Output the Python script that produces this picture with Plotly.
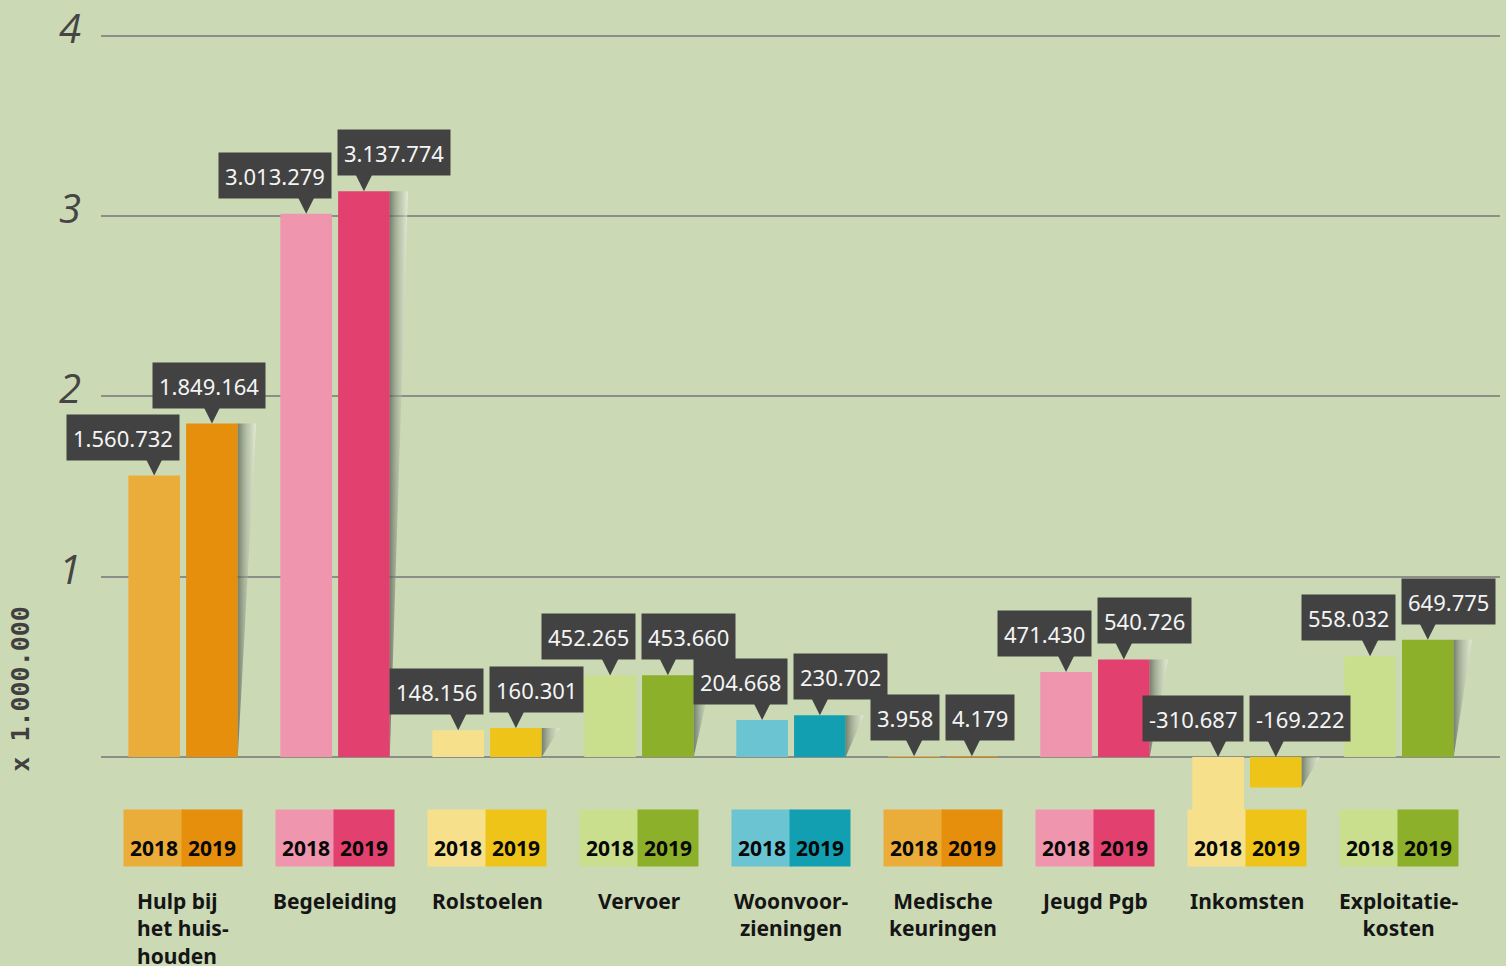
import plotly.graph_objects as go

categories = ["Hulp", "Begeleiding", "Rolstoelen", "Vervoer", "Woonvoorzieningen",
              "Medische keuringen", "Jeugd Pgb", "Inkomsten", "Exploitatiekosten"]
category_labels = ["Hulp bij<br>het huis-<br>houden", "Begeleiding", "Rolstoelen", "Vervoer",
                   "Woonvoor-<br>zieningen", "Medische<br>keuringen", "Jeugd Pgb", "Inkomsten",
                   "Exploitatie-<br>kosten"]
values_2018 = [1560732, 3013279, 148156, 452265, 204668, 3958, 471430, -310687, 558032]
values_2019 = [1849164, 3137774, 160301, 453660, 230702, 4179, 540726, -169222, 649775]
label_2018 = ["1.560.732", "3.013.279", "148.156", "452.265", "204.668", "3.958", "471.430", "-310.687", "558.032"]
label_2019 = ["1.849.164", "3.137.774", "160.301", "453.660", "230.702", "4.179", "540.726", "-169.222", "649.775"]
colors_2018 = ["#EBAD3A", "#EF96AE", "#F7E08C", "#C9DF8E", "#6BC4D2", "#EBAD3A", "#EF96AE", "#F7E08C", "#C9DF8E"]
colors_2019 = ["#E68F0D", "#E2416F", "#EEC419", "#8DB02A", "#139FB2", "#E68F0D", "#E2416F", "#EEC419", "#8DB02A"]
years = ["2018", "2019"]
y_ticks = [0, 1, 2, 3, 4]
y_ticktext = ["", "1", "2", "3", "4"]

SCALE = 1_000_000
y18 = [v / SCALE for v in values_2018]
y19 = [v / SCALE for v in values_2019]
xpos = list(range(len(categories)))

# styling constants
BG = "#CCD9B5"
BOX = "#424242"
BAR_W = 0.34
OFF18 = -0.36
OFF19 = 0.02
C18 = OFF18 + BAR_W / 2
C19 = OFF19 + BAR_W / 2
center_2019_label = [True, False, False, False, False, False, False, False, False]
label_align = ["left", "center", "center", "center", "center", "center", "center", "center", "center"]

fig = go.Figure()

# page-curl style shadows on the right of the 2019 bars
for i, v in zip(xpos, y19):
    right = i + OFF19 + BAR_W
    top, bot = max(v, 0), min(v, 0)
    fig.add_trace(go.Scatter(
        x=[right, right + 0.12, right, right], y=[top, top, bot, top],
        mode="lines", line=dict(width=0), fill="toself",
        fillgradient=dict(type="horizontal",
                          colorscale=[[0, "rgba(80,90,78,0.7)"], [0.5, "rgba(160,170,155,0.5)"],
                                      [1, "rgba(245,248,240,0.55)"]]),
        hoverinfo="skip", showlegend=False))

fig.add_trace(go.Bar(x=xpos, y=y18, name="2018", offset=OFF18, width=BAR_W,
                     marker=dict(color=colors_2018, line=dict(width=0))))
fig.add_trace(go.Bar(x=xpos, y=y19, name="2019", offset=OFF19, width=BAR_W,
                     marker=dict(color=colors_2019, line=dict(width=0))))

annotations = []
LABEL_FONT = dict(family="Noto Sans", size=22, color="#F4F4F4")
for i in xpos:
    for yv, txt, c, yr_idx in ((y18[i], label_2018[i], C18, 0), (y19[i], label_2019[i], C19, 1)):
        tip = max(yv, 0)
        # pointer triangle
        annotations.append(dict(
            x=i + c, y=tip, xref="x", yref="y", text="", showarrow=True,
            arrowhead=2, arrowsize=2.1, arrowwidth=2, arrowcolor=BOX,
            ax=0, ay=-17))
        # value box
        if yr_idx == 0:
            xa, xs = "right", 26
        elif center_2019_label[i]:
            xa, xs = "center", -3
        else:
            xa, xs = "left", -27
        annotations.append(dict(
            x=i + c, y=tip, xref="x", yref="y", xanchor=xa, xshift=xs,
            yanchor="bottom", yshift=15, text=txt, showarrow=False, height=33,
            bgcolor=BOX, borderpad=6, font=LABEL_FONT))
    # legend tiles under each group
    for yr, col, c in ((years[0], colors_2018[i], C18), (years[1], colors_2019[i], C19)):
        annotations.append(dict(
            x=i + c, y=-0.448, xref="x", yref="y",
            text="<b>" + yr + "</b>", showarrow=False, width=52, height=48,
            bgcolor=col, valign="bottom", borderpad=4,
            font=dict(family="Noto Sans", size=21, color="#080808")))
    annotations.append(dict(
        x=i, y=-0.712, xref="x", yref="y", yanchor="top",
        text="<b>" + category_labels[i] + "</b>", showarrow=False, align=label_align[i],
        font=dict(family="Noto Sans", size=21, color="#151515")))

annotations.append(dict(
    x=-0.0575, y=0.376, xref="paper", yref="y", xanchor="center", yanchor="middle",
    text="<b>x 1.000.000</b>", textangle=-90, showarrow=False,
    font=dict(family="DejaVu Sans Mono", size=25, color="#404040")))

fig.update_layout(
    width=1506, height=966,
    margin=dict(l=101, r=6, t=0, b=0),
    paper_bgcolor=BG, plot_bgcolor=BG,
    barmode="overlay",
    showlegend=False,
    annotations=annotations,
    xaxis=dict(range=[-0.54, 8.665], showticklabels=False, showgrid=False,
               zeroline=False, showline=False, ticks=""),
    yaxis=dict(range=[-1.160, 4.177], tickvals=y_ticks, ticktext=y_ticktext,
               showgrid=True, gridcolor="#8C8F88", gridwidth=1.5,
               zeroline=False, showline=False, ticks="",
               ticklabelstandoff=19, ticklabelshift=-7, ticklabeloverflow="allow",
               tickfont=dict(family="Open Sans", size=40, color="#454545", style="italic")),
)

fig.write_html("out.html", config={"displayModeBar": False},
               post_script="document.body.style.margin='0';")
